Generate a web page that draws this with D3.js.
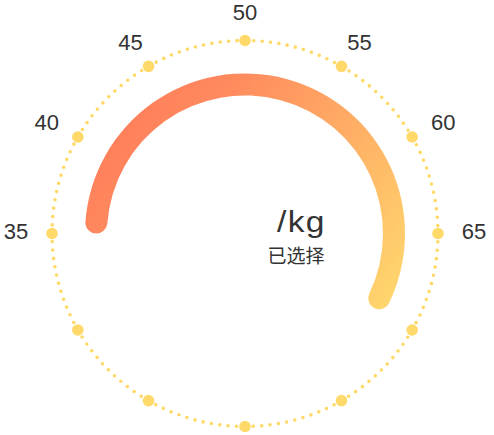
<!DOCTYPE html>
<html>
<head>
<meta charset="utf-8">
<script src="https://cdn.jsdelivr.net/npm/d3@7"></script>
<style>
  html, body { margin: 0; padding: 0; background: #fff; }
  svg { display: block; }
</style>
</head>
<body>
<svg id="mainSvg" width="494" height="435"></svg>
<script>
// values shown on the dial
const tickLabels = [35, 40, 45, 50, 55, 60, 65];
const dotValues = [35, 40, 45, 50, 55, 60, 65, 70, 75, 80, 85, 90];
const selected = [70];
const unit = '/kg';
const caption = '已选择';

let svg = d3.select('#mainSvg');
let cx = 245, cy = 233.5;
let ringR = 193;

// 35 sits on the left, 65 on the right
let angle = d3.scaleLinear()
  .domain([35, 65])
  .range([-Math.PI / 2, Math.PI / 2]);

let defs = svg.append('defs');
let grad = defs.append('linearGradient')
  .attr('id', 'arcGrad')
  .attr('gradientUnits', 'userSpaceOnUse')
  .attr('x1', 85 - cx).attr('y1', 73 - cy)
  .attr('x2', 405 - cx).attr('y2', 320 - cy);
grad.append('stop').attr('offset', '0%').attr('stop-color', '#ff7558');
grad.append('stop').attr('offset', '30%').attr('stop-color', '#ff8a5e');
grad.append('stop').attr('offset', '100%').attr('stop-color', '#ffdc6e');

let g = svg.append('g').attr('transform', `translate(${cx},${cy})`);

// dotted ring
g.append('circle')
  .attr('r', ringR)
  .attr('fill', 'none')
  .attr('stroke', '#ffd966')
  .attr('stroke-width', 3.6)
  .attr('stroke-linecap', 'round')
  .attr('stroke-dasharray', `0 ${2 * Math.PI * ringR / 144}`);

// big dots
g.selectAll('.dot')
  .data(dotValues)
  .enter().append('circle')
  .attr('class', 'dot')
  .attr('cx', d => ringR * Math.sin(angle(d)))
  .attr('cy', d => -ringR * Math.cos(angle(d)))
  .attr('r', 5.8)
  .attr('fill', '#ffd96a');

// labels sit on a slightly flattened ring
let labelRx = 229, labelRy = 219;
g.selectAll('.label')
  .data(tickLabels)
  .enter().append('text')
  .attr('class', 'label')
  .attr('x', d => labelRx * Math.sin(angle(d)))
  .attr('y', d => -2 - labelRy * Math.cos(angle(d)))
  .attr('dy', '0.36em')
  .attr('text-anchor', 'middle')
  .attr('font-family', '"Liberation Sans", Arial, sans-serif')
  .attr('font-size', 22)
  .attr('fill', '#333')
  .text(d => d);

// progress arc
let arc = d3.arc()
  .innerRadius(138)
  .outerRadius(160)
  .cornerRadius(11)
  .startAngle(angle(35))
  .endAngle(d => angle(d));

g.selectAll('.progress')
  .data(selected)
  .enter().append('path')
  .attr('class', 'progress')
  .attr('d', d => arc(d))
  .attr('fill', 'url(#arcGrad)');

// centre texts
svg.append('text')
  .attr('transform', 'translate(277,232) scale(1.12,1)')
  .attr('font-family', '"Liberation Sans", Arial, sans-serif')
  .attr('font-size', 30)
  .attr('letter-spacing', 1.2)
  .attr('fill', '#333')
  .text(unit);

svg.append('text')
  .attr('x', 296)
  .attr('y', 263)
  .attr('text-anchor', 'middle')
  .attr('font-family', '"Noto Sans CJK SC", sans-serif')
  .attr('font-size', 19)
  .attr('fill', '#333')
  .text(caption);
</script>
</body>
</html>
